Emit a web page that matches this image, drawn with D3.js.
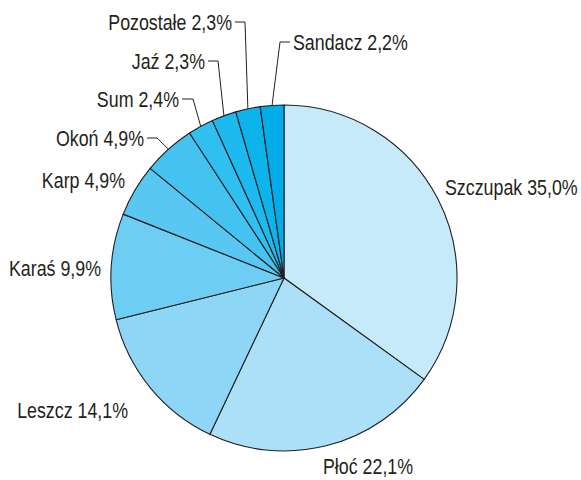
<!DOCTYPE html>
<html>
<head>
<meta charset="utf-8">
<script src="https://cdn.jsdelivr.net/npm/d3@7"></script>
<style>
  body { margin: 0; background: #fff; }
  text { font-family: "Liberation Sans", Arial, sans-serif; font-size: 22px; fill: #231f20; }
</style>
</head>
<body>
<svg id="pie" width="581" height="480"></svg>
<script>
var names = ['Szczupak', 'Płoć', 'Leszcz', 'Karaś', 'Karp', 'Okoń', 'Sum', 'Jaź', 'Pozostałe', 'Sandacz'];
var shares = [35.0, 22.1, 14.1, 9.9, 4.9, 4.9, 2.4, 2.3, 2.3, 2.2];
var colors = ['#c6eafa', '#abe0f8', '#8dd6f5', '#6dcdf3', '#58c8f2', '#45c3f0', '#2fbff0', '#1cbaee', '#0db4eb', '#00ade8'];

// label layout: [anchor, x, baseline y, elbow x (null = no leader)]
var labelPos = {
  'Szczupak':  ['start', 445, 195, null],
  'Płoć':      ['start', 323, 474, null],
  'Leszcz':    ['end', 128, 418, null],
  'Karaś':     ['end', 101, 276, null],
  'Karp':      ['end', 125, 188, null],
  'Okoń':      ['end', 144, 146, 157],
  'Sum':       ['end', 179, 107, 193],
  'Jaź':       ['end', 205, 69, 218],
  'Pozostałe': ['end', 232, 30, 245],
  'Sandacz':   ['start', 293, 50, 280]
};
const squeeze = 0.81;

var svg = d3.select('#pie');
const cx = 284, cy = 278, radius = 173;
var g = svg.append('g').attr('transform', `translate(${cx}, ${cy})`);

var data = names.map(function(n, i) { return {name: n, value: shares[i], color: colors[i]}; });

var pie = d3.pie().value(d => d.value).sort(null);
var arc = d3.arc().innerRadius(0).outerRadius(radius);
var arcs = pie(data);

g.selectAll('path')
  .data(arcs)
  .enter().append('path')
    .attr('d', arc)
    .attr('fill', d => d.data.color)
    .attr('stroke', '#231f20')
    .attr('stroke-width', 1.1)
    .attr('stroke-linejoin', 'round');

// leader lines
arcs.forEach(function(a) {
  var p = labelPos[a.data.name];
  if (p[3] === null) return;
  var mid = (a.startAngle + a.endAngle) / 2;
  var x0 = cx + radius * Math.sin(mid), y0 = cy - radius * Math.cos(mid);
  var ly = p[2] - 8;
  var tx = p[0] === 'end' ? p[1] + 3 : p[1] - 3;
  svg.append('path')
    .attr('d', `M${x0},${y0}L${p[3]},${ly}L${tx},${ly}`)
    .attr('fill', 'none')
    .attr('stroke', '#231f20')
    .attr('stroke-width', 1);
});

svg.selectAll('.lbl')
  .data(arcs)
  .enter().append('text')
    .attr('class', 'lbl')
    .attr('transform', d => `translate(${labelPos[d.data.name][1]}, ${labelPos[d.data.name][2]}) scale(${squeeze}, 1)`)
    .attr('text-anchor', d => labelPos[d.data.name][0])
    .text(d => d.data.name + ' ' + d3.format('.1f')(d.data.value).replace('.', ',') + '%');
</script>
</body>
</html>
